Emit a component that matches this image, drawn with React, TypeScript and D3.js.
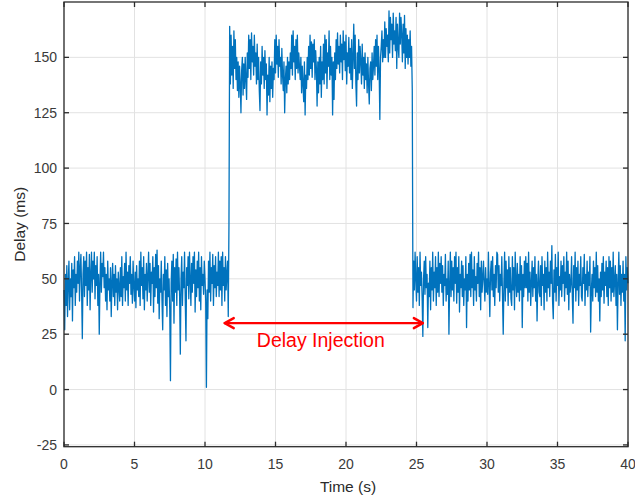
import React, { useEffect, useRef } from "react";
import * as d3 from "d3";

// one sample every 0.05 s, starting at t = 0
const sampleStep = 0.05;

// baseline delay, 0 s .. 11.7 s (last sample is the spike as the delay starts)
const preDelay = [
  45, 27, 52, 38, 56, 33, 48, 58, 36, 50, 42, 57, 31, 54, 46, 60, 38, 52, 44, 58,
  48, 62, 40, 55, 61, 44, 23, 52, 60, 42, 58, 47, 62, 38, 55, 45, 61, 36, 52, 62,
  44, 58, 50, 62, 41, 56, 47, 60, 38, 52, 25, 48, 62, 44, 57, 51, 62, 46, 55, 40,
  52, 36, 58, 45, 50, 40, 55, 33, 48, 57, 42, 52, 38, 56, 44, 50, 36, 53, 46, 40,
  55, 42, 60, 38, 51, 46, 57, 40, 62, 45, 53, 38, 56, 48, 60, 43, 52, 39, 58, 47,
  40, 53, 37, 56, 45, 50, 42, 58, 38, 62, 47, 55, 41, 60, 36, 52, 45, 57, 40, 51,
  62, 44, 57, 38, 53, 48, 60, 35, 55, 42, 61, 46, 63, 39, 56, 32, 50, 44, 58, 40,
  27, 52, 45, 60, 38, 54, 33, 57, 42, 50, 36, 4, 48, 58, 40, 61, 30, 55, 44, 59,
  38, 62, 45, 55, 42, 16, 50, 60, 38, 53, 46, 62, 40, 22, 55, 47, 60, 41, 62, 50,
  38, 57, 44, 60, 48, 62, 35, 54, 42, 58, 46, 62, 40, 55, 36, 60, 47, 52, 43, 58,
  50, 40, 1, 45, 32, 58, 44, 62, 40, 55, 48, 61, 38, 56, 46, 60, 42, 53, 47, 62,
  42, 58, 45, 60, 38, 62, 47, 55, 40, 60, 45, 52, 58, 33, 75,
];

// while the delay is injected, 11.75 s .. 24.7 s
const injectedDelay = [
  164, 138, 160, 142, 155, 136, 162, 145, 158, 140, 150, 135, 148, 132, 146, 138, 125, 144, 150, 133,
  147, 136, 150, 140, 131, 152, 141, 160, 145, 158, 140, 161, 148, 155, 142, 160, 146, 152, 138, 156,
  140, 150, 135, 126, 148, 138, 155, 142, 150, 136, 153, 140, 147, 124, 142, 133, 150, 130, 146, 136,
  148, 132, 145, 140, 158, 143, 160, 147, 155, 141, 158, 146, 150, 138, 154, 142, 135, 148, 125, 140,
  146, 134, 150, 138, 148, 140, 152, 145, 160, 142, 162, 148, 155, 140, 158, 145, 160, 143, 152, 146,
  140, 150, 134, 146, 138, 130, 148, 124, 142, 136, 150, 140, 155, 142, 160, 145, 157, 141, 156, 148,
  158, 140, 153, 145, 128, 148, 134, 150, 138, 155, 132, 148, 140, 156, 138, 160, 143, 158, 136, 152,
  146, 162, 140, 155, 142, 150, 124, 148, 131, 152, 140, 158, 145, 161, 147, 155, 143, 160, 148, 156,
  140, 162, 149, 157, 144, 160, 138, 152, 146, 159, 143, 154, 140, 158, 136, 150, 165, 145, 160, 138,
  128, 152, 140, 158, 143, 155, 148, 138, 156, 142, 150, 136, 152, 140, 147, 134, 150, 138, 129, 145,
  148, 135, 152, 140, 146, 155, 142, 158, 146, 160, 140, 155, 145, 122, 150, 155, 162, 148, 158, 150,
  166, 150, 163, 155, 160, 148, 171, 152, 168, 158, 165, 150, 170, 156, 162, 153, 168, 145, 165, 155,
  150, 170, 156, 168, 160, 148, 165, 152, 169, 145, 163, 150, 160, 147, 158, 150, 162, 146, 155, 135,
];

// after the injection stops, 24.75 s .. 40 s
const postDelay = [
  37, 58, 45, 62, 50, 40, 60, 44, 55, 38, 62, 47, 53, 41, 24, 50, 58, 43, 60, 46,
  52, 28, 48, 42, 58, 36, 55, 45, 62, 40, 53, 46, 60, 38, 55, 44, 62, 42, 57, 48,
  60, 44, 56, 38, 52, 47, 61, 40, 50, 43, 58, 25, 47, 62, 42, 58, 45, 55, 40, 60,
  48, 62, 39, 55, 44, 60, 35, 52, 46, 58, 42, 56, 38, 50, 45, 60, 28, 52, 40, 57,
  45, 61, 42, 62, 46, 54, 38, 60, 45, 51, 40, 57, 48, 62, 42, 55, 36, 58, 44, 50,
  58, 48, 40, 55, 44, 50, 43, 62, 47, 33, 53, 58, 45, 60, 42, 52, 38, 56, 46, 62,
  61, 44, 56, 40, 52, 47, 60, 42, 25, 48, 62, 40, 58, 46, 54, 38, 60, 44, 55, 41,
  38, 60, 45, 55, 36, 62, 49, 42, 57, 44, 52, 40, 60, 45, 56, 28, 52, 42, 58, 46,
  60, 46, 57, 40, 62, 44, 53, 38, 48, 58, 42, 55, 46, 60, 40, 52, 31, 48, 58, 44,
  42, 56, 38, 60, 47, 52, 36, 58, 44, 55, 40, 62, 46, 53, 42, 58, 48, 65, 40, 32,
  54, 44, 61, 40, 55, 47, 62, 38, 51, 45, 58, 42, 56, 48, 60, 40, 53, 46, 62, 43,
  58, 36, 52, 44, 48, 60, 42, 30, 56, 46, 62, 40, 55, 45, 58, 38, 52, 47, 60, 42,
  40, 55, 48, 61, 38, 52, 45, 58, 42, 53, 47, 60, 26, 44, 52, 40, 58, 46, 55, 42,
  62, 44, 56, 40, 50, 31, 53, 42, 57, 45, 60, 39, 53, 47, 58, 42, 55, 38, 60, 46,
  58, 40, 55, 44, 62, 42, 49, 56, 38, 52, 27, 48, 62, 43, 56, 38, 52, 44, 58, 40,
  52, 22, 60, 45, 55, 48,
];

const xTicks = [0, 5, 10, 15, 20, 25, 30, 35, 40];
const yTicks = [-25, 0, 25, 50, 75, 100, 125, 150];

// red double arrow + label
const arrowFrom = 11.4;
const arrowTo = 25.45;
const arrowLevel = 30;
const annotation = "Delay Injection";

const App = () => {
  const ref = useRef<SVGSVGElement>(null);

  useEffect(() => {
    if (!ref.current) return;

    const width = 635;
    const height = 501;
    const margin = { top: 2, right: 7, bottom: 54.3, left: 64 };
    const axisColor = "#2b2b2b";
    const font = "'Liberation Sans', Arial, sans-serif";

    const values = [...preDelay, ...injectedDelay, ...postDelay];
    const data = values.map((v, i) => ({ t: i * sampleStep, v }));

    const x = d3.scaleLinear().domain([0, 40]).range([margin.left, width - margin.right]);
    const y = d3.scaleLinear().domain([-25.8, 175]).range([height - margin.bottom, margin.top]);

    const svg = d3.select(ref.current);
    svg.selectAll("*").remove();

    const [x0, x1] = x.range();
    const [y0, y1] = y.range();

    // grid
    const grid = svg.append("g").attr("stroke", "#e2e2e2").attr("stroke-width", 1);
    grid
      .selectAll("line.gx")
      .data(xTicks)
      .join("line")
      .attr("x1", (d) => x(d))
      .attr("x2", (d) => x(d))
      .attr("y1", y1)
      .attr("y2", y0);
    grid
      .selectAll("line.gy")
      .data(yTicks)
      .join("line")
      .attr("class", "gy")
      .attr("x1", x0)
      .attr("x2", x1)
      .attr("y1", (d) => y(d))
      .attr("y2", (d) => y(d));

    // the delay trace
    const line = d3
      .line<{ t: number; v: number }>()
      .x((d) => x(d.t))
      .y((d) => y(d.v));

    svg
      .append("path")
      .datum(data)
      .attr("fill", "none")
      .attr("stroke", "#0072bd")
      .attr("stroke-width", 1.3)
      .attr("stroke-linejoin", "round")
      .attr("d", line);

    // box
    svg
      .append("rect")
      .attr("x", x0)
      .attr("y", y1)
      .attr("width", x1 - x0)
      .attr("height", y0 - y1)
      .attr("fill", "none")
      .attr("stroke", axisColor)
      .attr("stroke-width", 1.3);

    // inward ticks on all four sides
    const tickLen = 5;
    const ticks = svg.append("g").attr("stroke", axisColor).attr("stroke-width", 1.3);
    xTicks.forEach((t) => {
      ticks.append("line").attr("x1", x(t)).attr("x2", x(t)).attr("y1", y0).attr("y2", y0 - tickLen);
      ticks.append("line").attr("x1", x(t)).attr("x2", x(t)).attr("y1", y1).attr("y2", y1 + tickLen);
    });
    yTicks.forEach((t) => {
      ticks.append("line").attr("x1", x0).attr("x2", x0 + tickLen).attr("y1", y(t)).attr("y2", y(t));
      ticks.append("line").attr("x1", x1).attr("x2", x1 - tickLen).attr("y1", y(t)).attr("y2", y(t));
    });

    // tick labels
    svg
      .append("g")
      .selectAll("text")
      .data(xTicks)
      .join("text")
      .attr("x", (d) => x(d))
      .attr("y", 469)
      .attr("text-anchor", "middle")
      .attr("font-family", font)
      .attr("font-size", 14)
      .attr("fill", "#3a3a3a")
      .text((d) => d);

    svg
      .append("g")
      .selectAll("text")
      .data(yTicks)
      .join("text")
      .attr("x", x0 - 7)
      .attr("y", (d) => y(d))
      .attr("dy", "0.36em")
      .attr("text-anchor", "end")
      .attr("font-family", font)
      .attr("font-size", 14)
      .attr("fill", "#3a3a3a")
      .text((d) => d);

    // axis titles
    svg
      .append("text")
      .attr("x", (x0 + x1) / 2 + 2)
      .attr("y", 492)
      .attr("text-anchor", "middle")
      .attr("font-family", font)
      .attr("font-size", 15.5)
      .attr("fill", "#2b2b2b")
      .text("Time (s)");

    svg
      .append("text")
      .attr("transform", `translate(25,${(y0 + y1) / 2}) rotate(-90)`)
      .attr("text-anchor", "middle")
      .attr("font-family", font)
      .attr("font-size", 15.5)
      .attr("fill", "#2b2b2b")
      .text("Delay (ms)");

    // annotation
    const ax0 = x(arrowFrom);
    const ax1 = x(arrowTo);
    const ay = y(arrowLevel);
    const head = 9;
    const half = 5;
    const ann = svg
      .append("g")
      .attr("stroke", "#ff0000")
      .attr("stroke-width", 2.4)
      .attr("fill", "none")
      .attr("stroke-linecap", "round")
      .attr("stroke-linejoin", "round");
    ann.append("line").attr("x1", ax0).attr("x2", ax1).attr("y1", ay).attr("y2", ay);
    ann
      .append("path")
      .attr("d", `M${ax0 + head},${ay - half}L${ax0},${ay}L${ax0 + head},${ay + half}`);
    ann
      .append("path")
      .attr("d", `M${ax1 - head},${ay - half}L${ax1},${ay}L${ax1 - head},${ay + half}`);

    svg
      .append("text")
      .attr("x", (ax0 + ax1) / 2 - 3)
      .attr("y", ay + 24)
      .attr("text-anchor", "middle")
      .attr("font-family", font)
      .attr("font-size", 19.5)
      .attr("fill", "#ff0000")
      .text(annotation);
  }, []);

  return (
    <svg
      ref={ref}
      width={635}
      height={501}
      style={{ position: "absolute", left: 0, top: 0, background: "#fff" }}
    />
  );
};

export default App;
